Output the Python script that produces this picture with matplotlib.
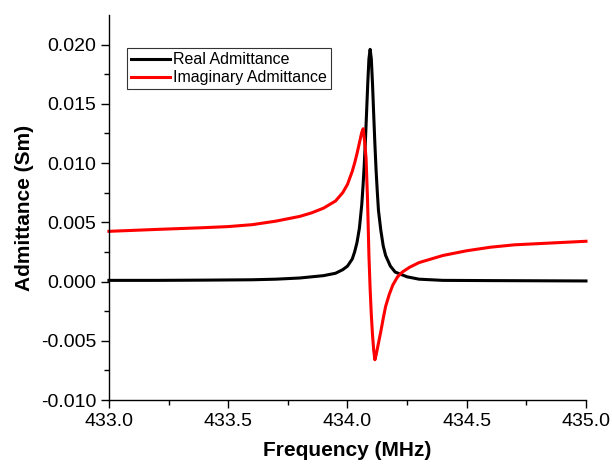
import matplotlib
matplotlib.use("Agg")
import matplotlib.pyplot as plt

plt.rcParams["font.family"] = ["Liberation Sans", "DejaVu Sans"]

# values
freq_real = [433.0, 433.2, 433.4, 433.6, 433.7, 433.8, 433.85, 433.9, 433.95,
             433.98, 434.0, 434.02, 434.03, 434.04, 434.05, 434.06, 434.065,
             434.07, 434.075, 434.08, 434.085, 434.09, 434.095, 434.1, 434.105,
             434.11, 434.115, 434.12, 434.125, 434.13, 434.14, 434.15, 434.16,
             434.18, 434.2, 434.25, 434.3, 434.4, 434.6, 435.0]
real_adm = [0.0001, 0.0001, 0.00012, 0.00015, 0.0002, 0.0003, 0.0004, 0.0005,
            0.0007, 0.0010, 0.0013, 0.0019, 0.0025, 0.0033, 0.0045, 0.0065,
            0.0080, 0.0097, 0.0118, 0.0142, 0.0167, 0.0188, 0.0196, 0.0188,
            0.0167, 0.0141, 0.0116, 0.0094, 0.0076, 0.0060, 0.0043, 0.0030,
            0.0022, 0.0013, 0.0008, 0.0004, 0.0002, 0.0001, 0.00008, 0.00005]

freq_imag = [433.0, 433.2, 433.4, 433.5, 433.6, 433.7, 433.75, 433.8, 433.85,
             433.9, 433.95, 433.98, 434.0, 434.02, 434.03, 434.04, 434.05,
             434.06, 434.066, 434.072, 434.078, 434.084, 434.09, 434.095,
             434.1, 434.105, 434.11, 434.115, 434.12, 434.13, 434.14, 434.15,
             434.16, 434.175, 434.19, 434.21, 434.23, 434.26, 434.3, 434.35,
             434.4, 434.45, 434.5, 434.6, 434.7, 434.8, 434.9, 435.0]
imag_adm = [0.00424, 0.0044, 0.00455, 0.00464, 0.0048, 0.0051, 0.0053, 0.0055,
            0.0058, 0.0062, 0.0068, 0.0075, 0.0082, 0.0093, 0.0100, 0.0108,
            0.0117, 0.0126, 0.0129, 0.0118, 0.0104, 0.0070, 0.0022, -0.0006,
            -0.0028, -0.0045, -0.0058, -0.0066, -0.0062, -0.0052, -0.0042,
            -0.0031, -0.0021, -0.0011, -0.0003, 0.0004, 0.0008, 0.0012, 0.0016,
            0.0019, 0.0022, 0.0024, 0.0026, 0.0029, 0.0031, 0.0032, 0.0033,
            0.0034]

xticks = [433.0, 433.5, 434.0, 434.5, 435.0]
yticks = [-0.010, -0.005, 0.000, 0.005, 0.010, 0.015, 0.020]


def plot():
    fig = plt.figure(figsize=(6.12, 4.66), dpi=100)
    ax = fig.add_axes([0.178, 0.1416, 0.7795, 0.8262])

    ax.plot(freq_real, real_adm, color="black", lw=2.2, label="Real Admittance")
    ax.plot(freq_imag, imag_adm, color="red", lw=2.2, label="Imaginary Admittance")

    ax.set_xlim(433.0, 435.0)
    ax.set_ylim(-0.010, 0.0225)
    ax.set_xticks(xticks)
    ax.set_xticklabels([f"{t:.1f}" for t in xticks])
    ax.set_yticks(yticks)
    ax.set_yticklabels([f"{t:.3f}" for t in yticks])
    ax.set_xticks([433.25, 433.75, 434.25, 434.75], minor=True)
    ax.set_yticks([-0.0075, -0.0025, 0.0025, 0.0075, 0.0125, 0.0175], minor=True)

    for side in ["top", "right"]:
        ax.spines[side].set_visible(False)
    for side in ["left", "bottom"]:
        ax.spines[side].set_linewidth(1.0)
        ax.spines[side].set_clip_on(False)
    ax.tick_params(which="major", direction="out", length=6, width=1,
                   labelsize=14, pad=3)
    ax.tick_params(which="minor", direction="out", length=3.5, width=1)

    ax.set_xlabel("Frequency (MHz)", fontsize=15, fontweight="bold", labelpad=8)
    ax.set_ylabel("Admittance (Sm)", fontsize=15, fontweight="bold", labelpad=5)

    leg = ax.legend(loc="upper left", bbox_to_anchor=(0.038, 0.914),
                    fontsize=11.5, frameon=True, fancybox=False, borderpad=0.25,
                    handlelength=2.45, handletextpad=0.2, labelspacing=0.2,
                    borderaxespad=0)
    leg.get_frame().set_edgecolor("black")
    leg.get_frame().set_linewidth(0.8)

    for line in ax.get_lines():
        line.set_clip_on(False)

    fig.savefig("out.png", dpi=100)


if __name__ == "__main__":
    plot()
